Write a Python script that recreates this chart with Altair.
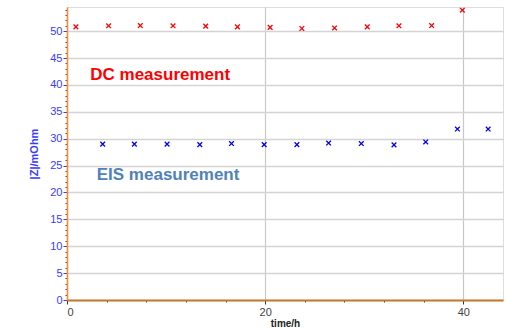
import altair as alt
import pandas as pd

dc_time = [0.9, 4.2, 7.4, 10.7, 14.0, 17.2, 20.5, 23.7, 27.0, 30.3, 33.5, 36.8, 39.9]
dc_z = [50.8, 51.0, 51.05, 51.0, 50.95, 50.8, 50.7, 50.5, 50.6, 50.8, 51.0, 51.05, 53.9]
eis_time = [3.6, 6.8, 10.1, 13.4, 16.6, 19.9, 23.2, 26.4, 29.7, 33.0, 36.2, 39.4, 42.5]
eis_z = [29.0, 29.0, 29.0, 28.9, 29.1, 28.9, 28.9, 29.2, 29.1, 28.85, 29.4, 31.8, 31.8]

label_text = ["DC measurement", "EIS measurement"]
label_time = [9.4, 10.2]
label_z = [41.9, 23.3]
label_color = ["#ff0000", "#4f81bd"]

df = pd.DataFrame({
    "time": dc_time + eis_time,
    "z": dc_z + eis_z,
    "series": ["DC"] * len(dc_time) + ["EIS"] * len(eis_time),
})
lab = pd.DataFrame({"text": label_text, "time": label_time, "z": label_z, "c": label_color})

xs = alt.Scale(domain=[0, 44], nice=False, zero=False)
ys = alt.Scale(domain=[0, 54.5], nice=False, zero=False)

x_axis = alt.Axis(
    values=list(range(0, 41, 4)),
    tickCount=100, format="d",
    labelExpr="datum.value % 20 == 0 ? datum.label : ''",
    labelOverlap=False,
    title="time/h", titleFontWeight="bold", titleFontSize=10, titleColor="#222",
    titleFont="Liberation Sans", labelFont="Liberation Sans",
    labelFontSize=11, labelColor="#444", labelPadding=2, titlePadding=1,
    domainColor="#c8782d", domainWidth=2,
    tickColor="#333",
    tickSize={"condition": {"test": "datum.value % 20 == 0", "value": 4}, "value": 2},
    grid=True, gridColor="#c8c8c8", gridWidth=1.2,
    gridOpacity={"condition": {"test": "datum.value % 20 == 0", "value": 1}, "value": 0},
)
y_axis = alt.Axis(
    values=list(range(0, 55, 1)),
    tickCount=100, format="d",
    labelExpr="datum.value % 5 == 0 ? datum.label : ''",
    labelOverlap=False,
    title="|Z|/mOhm", titleFontWeight="bold", titleFontSize=11, titleColor="#3a3aff",
    titleFont="Liberation Sans", labelFont="Liberation Sans",
    labelFontSize=11, labelColor="#3a3aff", labelPadding=1, titlePadding=10,
    domainColor="#ff8c1a", domainWidth=1.5,
    tickColor="#3a3aff",
    tickSize={"condition": {"test": "datum.value % 5 == 0", "value": 4}, "value": 2},
    grid=True, gridColor="#d4d4d4", gridWidth=1.5,
    gridOpacity={"condition": {"test": "datum.value % 5 == 0", "value": 1}, "value": 0},
)

points = alt.Chart(df).mark_point(
    shape="M-1,-1L1,1M-1,1L1,-1", filled=False, size=22, strokeWidth=1.3, opacity=1
).encode(
    x=alt.X("time:Q", scale=xs, axis=x_axis),
    y=alt.Y("z:Q", scale=ys, axis=y_axis),
    color=alt.Color("series:N", scale=alt.Scale(domain=["DC", "EIS"], range=["#ff0000", "#0000ff"]), legend=None),
)

texts = alt.Chart(lab).mark_text(
    font="Liberation Sans", fontSize=17, fontWeight="bold", align="center", baseline="middle"
).encode(
    x=alt.X("time:Q", scale=xs),
    y=alt.Y("z:Q", scale=ys),
    text="text:N",
    color=alt.Color("c:N", scale=None),
)

chart = alt.layer(points, texts).properties(
    width=436, height=293,
    autosize=alt.AutoSizeParams(type="none"),
    padding={"left": 67, "top": 7, "right": 2, "bottom": 29},
).configure_view(stroke="#c0c0c0", strokeWidth=1.5).configure(background="white")

chart.save("out.html", embed_options={"renderer": "svg", "actions": False})
